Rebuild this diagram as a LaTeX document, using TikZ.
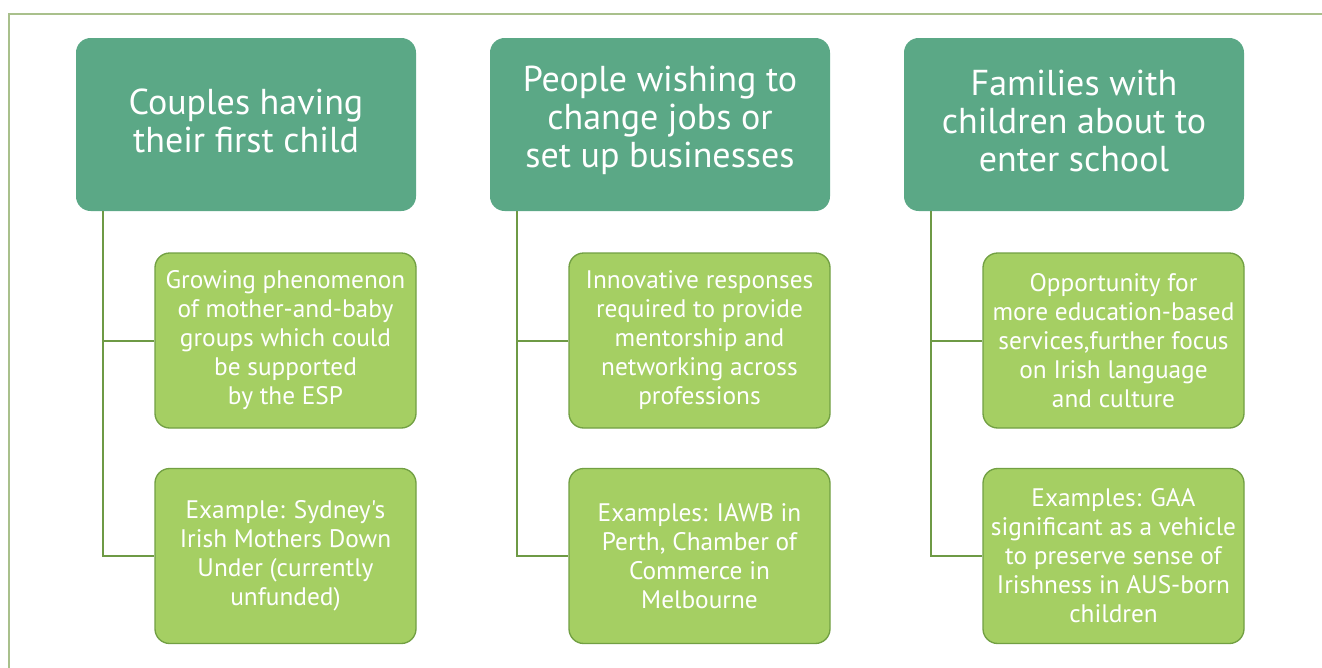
\documentclass[tikz,border=0pt]{standalone}
\usepackage{fontspec}
\setmainfont{PT Sans}[Ligatures=TeXOff]
\usetikzlibrary{calc}
\definecolor{topgreen}{HTML}{5BA886}
\definecolor{subfill}{HTML}{A5CF63}
\definecolor{subborder}{HTML}{72A043}
\definecolor{conncol}{HTML}{6E9A45}
\definecolor{framecol}{HTML}{A9C08C}
\begin{document}
\begin{tikzpicture}[x=0.75pt,y=-0.75pt,
  topbox/.style={rounded corners=11pt, fill=topgreen, minimum width=255pt, minimum height=129.75pt, inner sep=0pt},
  toptext/.style={text=white, align=center, inner sep=0pt, font=\fontsize{27}{28.5}\selectfont},
  subbox/.style={rounded corners=11pt, fill=subfill, draw=subborder, line width=1pt,
    minimum width=195.75pt, minimum height=131.25pt, text=white, align=center, inner sep=0pt,
    font=\fontsize{19}{21.75}\selectfont},
  conn/.style={draw=conncol, line width=1.5pt},
  framestyle/.style={draw=framecol, line width=1.2pt}]
\useasboundingbox (0,0) rectangle (1322,668);
\draw[framestyle] (9,668) -- (9,14) -- (1322,14);

\node[topbox] (t1) at (246,124.5) {};
\node[topbox] (t2) at (660,124.5) {};
\node[topbox] (t3) at (1074,124.5) {};
\node[toptext] (t1l) at ($(t1.center)+(0,-4)$) {Couples having\\their first child};
\node[toptext] (t2l) at ($(t2.center)+(0,-4)$) {People wishing to\\change jobs or\\set up businesses};
\node[toptext] (t3l) at ($(t3.center)+(0,-4)$) {Families with\\children about to\\enter school};

\node[subbox] (s1a) at (285.5,340.5) {Growing phenomenon\\of mother-and-baby\\groups which could\\be supported\\ by the ESP};
\node[subbox] (s1b) at (285.5,556) {Example: Sydney's\\Irish Mothers Down\\Under (currently\\unfunded)};
\node[subbox] (s2a) at (699.5,340.5) {Innovative responses\\required to provide\\mentorship and\\networking across\\professions};
\node[subbox] (s2b) at (699.5,556) {Examples: IAWB in\\Perth, Chamber of\\Commerce in\\Melbourne};
\node[subbox] (s3a) at (1113.5,340.5) {Opportunity for\\more education-based\\services,further focus\\on Irish language\\and culture};
\node[subbox] (s3b) at (1113.5,556) {Examples: GAA\\significant as a vehicle\\to preserve sense of\\Irishness in AUS-born\\children};

\foreach \i in {1,2,3}{
  \coordinate (c\i) at ($(t\i.south west)+(20.25pt,0)$);
  \draw[conn] (c\i) |- (s\i b.west);
  \draw[conn] (s\i a.west) -- (s\i a.west -| c\i);
}
\end{tikzpicture}
\end{document}
